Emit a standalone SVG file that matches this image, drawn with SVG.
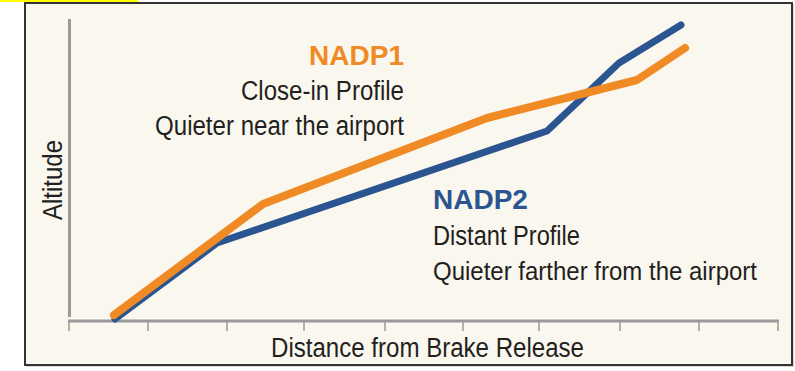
<svg xmlns="http://www.w3.org/2000/svg" width="795" height="371" viewBox="0 0 795 371">
<style>
.t{font-family:"Liberation Sans",Arial,sans-serif;font-size:27px;fill:#231f20}
.b{font-family:"Liberation Sans",Arial,sans-serif;font-size:28px;font-weight:bold}
.ax{stroke:#9a9a9c;fill:none}
.ln{fill:none;stroke-linejoin:round;stroke-linecap:round}
</style>
<rect x="0" y="0" width="795" height="371" fill="#ffffff"/>
<rect x="0" y="0" width="138" height="2" fill="#ffff00"/>
<rect x="26" y="4" width="768" height="363" fill="#d8d8d8"/>
<rect x="25" y="3" width="767" height="362" fill="#faf7ef" stroke="#333333" stroke-width="2"/>
<g id="axes">
<line class="ax" x1="69.5" y1="19" x2="69.5" y2="317" stroke-width="3"/>
<line class="ax" x1="68" y1="321" x2="779" y2="321" stroke-width="3"/>
<path class="ax" stroke-width="1.5" d="M69 321V331M148 321V331M227 321V331M304 321V331M385 321V331M463 321V331M539 321V331M620 321V331M699 321V331M778 321V331"/>
</g>
<g id="connectors">
<polyline id="nadp2-line" class="ln" stroke="#2a5591" stroke-width="7" points="115,319 217,243 547,131 619,63 681,25"/>
<polyline id="nadp1-line" class="ln" stroke="#f08a24" stroke-width="8" points="114,315 263,204 487,118 637,80 685,48"/>
</g>
<g id="nadp1">
<text class="b" x="404" y="65" text-anchor="end" fill="#f08a24">NADP1</text>
<text class="t" x="404" y="100" text-anchor="end" textLength="163" lengthAdjust="spacingAndGlyphs">Close-in Profile</text>
<text class="t" x="404" y="135" text-anchor="end" textLength="249" lengthAdjust="spacingAndGlyphs">Quieter near the airport</text>
</g>
<g id="nadp2">
<text class="b" x="433" y="209" fill="#2a5591">NADP2</text>
<text class="t" x="433" y="245" textLength="147" lengthAdjust="spacingAndGlyphs">Distant Profile</text>
<text class="t" x="433" y="280" style="font-size:26px" textLength="324" lengthAdjust="spacingAndGlyphs">Quieter farther from the airport</text>
</g>
<text class="t" transform="translate(62,180) rotate(-90)" text-anchor="middle" textLength="80" lengthAdjust="spacingAndGlyphs">Altitude</text>
<text class="t" x="271" y="357" textLength="313" lengthAdjust="spacingAndGlyphs">Distance from Brake Release</text>
</svg>
